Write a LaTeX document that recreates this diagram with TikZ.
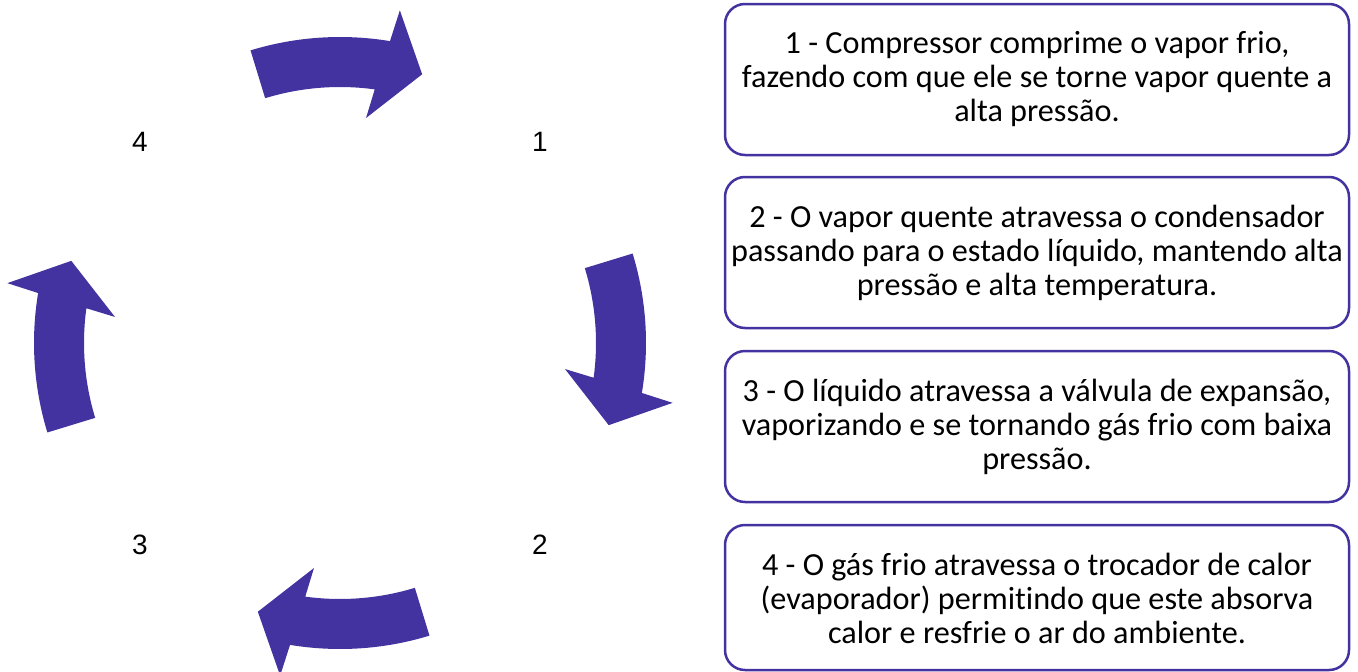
\documentclass[tikz,border=0pt]{standalone}
\usepackage{fontspec}
\setmainfont[Ligatures=NoCommon]{Carlito}
\newfontfamily\numfont{Liberation Sans}
\definecolor{cyc}{RGB}{67,51,160}
\begin{document}
\begin{tikzpicture}[x=1pt,y=-1pt,
  cyclearrow/.style={fill=cyc,draw=none},
  stepbox/.style={draw=cyc,line width=2.5pt,rounded corners=20pt,fill=white},
  boxtext/.style={align=center,font=\fontsize{32.2}{34}\selectfont,text=black},
  numlabel/.style={font=\numfont\fontsize{28}{34}\selectfont,text=black}]
\useasboundingbox (0,0) rectangle (1358,672);
\coordinate (C) at (340,343);
\foreach \k in {0,1,2,3}{
  \begin{scope}[shift={(C)},yscale=-1,rotate=-90*\k]
    \fill[cyclearrow] (107:306) arc[start angle=107,end angle=80.6,radius=306]
      -- (79.8:338) -- (73:281) -- (83.4:226.5) -- (82.2:256)
      arc[start angle=82.2,end angle=107,radius=256] -- cycle;
  \end{scope}
}
\node[numlabel] (n4) at (140,142) {4};
\node[numlabel] (n1) at (540,142) {1};
\node[numlabel] (n3) at (140,545) {3};
\node[numlabel] (n2) at (540,545) {2};
\draw[stepbox] (725,4) rectangle (1349,155);
\draw[stepbox] (725,177) rectangle (1349,328);
\draw[stepbox] (725,351) rectangle (1349,502);
\draw[stepbox] (725,525) rectangle (1349,670);
\node[boxtext] (b1) at (1037,79.5) {1 - Compressor comprime o vapor frio,\\fazendo com que ele se torne vapor quente a\\alta pressão.};
\node[boxtext] (b2) at (1037,252.5) {2 - O vapor quente atravessa o condensador\\passando para o estado líquido, mantendo alta\\pressão e alta temperatura.};
\node[boxtext] (b3) at (1037,426.5) {3 - O líquido atravessa a válvula de expansão,\\vaporizando e se tornando gás frio com baixa\\pressão.};
\node[boxtext] (b4) at (1037,598) {4 - O gás frio atravessa o trocador de calor\\(evaporador) permitindo que este absorva\\calor e resfrie o ar do ambiente.};
\end{tikzpicture}
\end{document}
